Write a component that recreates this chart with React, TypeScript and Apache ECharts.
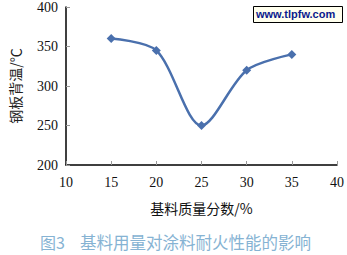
import React, { useEffect, useRef } from "react";
import * as echarts from "echarts";

const xValues = [15, 20, 25, 30, 35];
const yValues = [360, 345, 250, 320, 340];
const xTitle = "基料质量分数/%";
const yTitle = "钢板背温/℃";
const captionLabel = "图3";
const captionText = "基料用量对涂料耐火性能的影响";
const watermark = "www.tlpfw.com";

export default function App() {
  const ref = useRef<HTMLDivElement>(null);
  useEffect(() => {
    const chart = echarts.init(ref.current!, null, { renderer: "svg" });
    const serif = "'Liberation Serif', serif";
    chart.setOption({
      animation: false,
      backgroundColor: "#ffffff",
      grid: { left: 62, top: 6, right: 10, bottom: 90, containLabel: false },
      xAxis: {
        type: "value",
        min: 10,
        max: 40,
        interval: 5,
        axisLine: { show: true, lineStyle: { color: "#000", width: 1.5 } },
        axisTick: { show: true, inside: true, length: 4, lineStyle: { color: "#999" } },
        axisLabel: { color: "#111", fontSize: 14, fontFamily: serif, margin: 10 },
        splitLine: { show: false },
        name: xTitle,
        nameLocation: "middle",
        nameGap: 36,
        nameTextStyle: { color: "#111", fontSize: 14, fontFamily: "'Noto Sans CJK SC', sans-serif" },
      },
      yAxis: {
        type: "value",
        min: 200,
        max: 400,
        interval: 50,
        axisLine: { show: true, lineStyle: { color: "#000", width: 1.5 } },
        axisTick: { show: true, inside: true, length: 4, lineStyle: { color: "#999" } },
        axisLabel: { color: "#111", fontSize: 14, fontFamily: serif, margin: 8 },
        splitLine: { show: false },
        name: yTitle,
        nameLocation: "middle",
        nameGap: 44,
        nameRotate: 90,
        nameTextStyle: { color: "#222", fontSize: 14, fontFamily: "'Noto Sans CJK SC', sans-serif" },
      },
      series: [
        {
          type: "line",
          data: xValues.map((x, i) => [x, yValues[i]]),
          smooth: 0.3,
          symbol: "diamond",
          symbolSize: 9,
          lineStyle: { color: "#4a70ad", width: 2.5 },
          itemStyle: { color: "#4a70ad" },
        },
      ],
      graphic: [
        {
          type: "rect",
          left: 253,
          top: 6,
          shape: { width: 89, height: 16 },
          style: { fill: "#ffffee", stroke: "#000", lineWidth: 1 },
        },
        {
          type: "text",
          left: 256,
          top: 8,
          style: {
            text: watermark,
            fill: "#0a1a8c",
            font: "bold 11px 'Liberation Sans', Arial, sans-serif",
          },
        },
        {
          type: "text",
          left: 40,
          top: 234,
          style: {
            text: captionLabel,
            fill: "#86b3d3",
            font: "16px 'Noto Sans CJK SC', sans-serif",
          },
        },
        {
          type: "text",
          left: 80,
          top: 234,
          style: {
            text: captionText,
            fill: "#86b3d3",
            font: "16.5px 'Noto Sans CJK SC', sans-serif",
          },
        },
      ],
    });
    return () => chart.dispose();
  }, []);
  return <div ref={ref} style={{ width: 347, height: 255, position: "absolute", left: 0, top: 0 }} />;
}
